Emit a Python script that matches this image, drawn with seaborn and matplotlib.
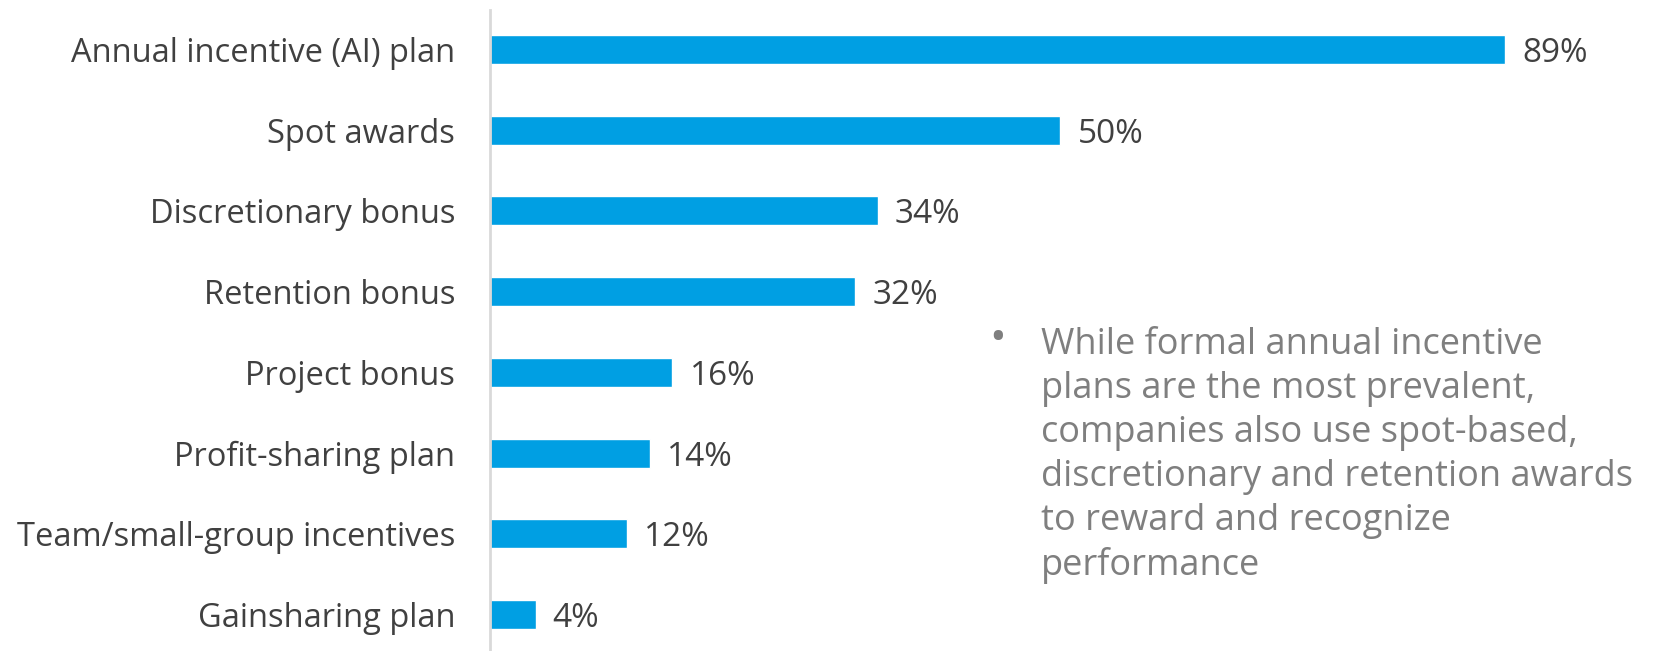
import matplotlib
matplotlib.use("Agg")
import matplotlib.pyplot as plt
import seaborn as sns
import pandas as pd

categories = [
    "Annual incentive (AI) plan",
    "Spot awards",
    "Discretionary bonus",
    "Retention bonus",
    "Project bonus",
    "Profit-sharing plan",
    "Team/small-group incentives",
    "Gainsharing plan",
]
values = [89, 50, 34, 32, 16, 14, 12, 4]
note = ("While formal annual incentive\nplans are the most prevalent,\n"
        "companies also use spot-based,\ndiscretionary and retention awards\n"
        "to reward and recognize\nperformance")

sns.set_theme(style="white")
plt.rcParams["font.family"] = ["Open Sans", "DejaVu Sans"]

df = pd.DataFrame({"category": categories, "value": values})

fig = plt.figure(figsize=(16.63, 6.51), dpi=100)
ax = fig.add_axes([0.2946, 0.0, 0.686, 0.985])

sns.barplot(data=df, x="value", y="category", orient="h", color="#009FE3",
            saturation=1, width=0.36, ax=ax)

ax.set_xlim(0, 100)
ax.set_ylim(7.45, -0.49)
ax.set_xlabel("")
ax.set_ylabel("")
ax.set_xticks([])
for s in ["top", "right", "bottom"]:
    ax.spines[s].set_visible(False)
ax.spines["left"].set_color("#d9d9d9")
ax.spines["left"].set_linewidth(2)
ax.tick_params(axis="y", length=0, pad=25, labelsize=23.5, labelcolor="#404040")

for i, v in enumerate(values):
    ax.text(v + 1.5, i, f"{v}%", va="center_baseline", ha="left", fontsize=24,
            color="#404040")

fig.text(0.6, 0.478, "\u2022", fontsize=32, color="#7f7f7f", va="center", ha="center")
fig.text(0.626, 0.497, note, fontsize=26, color="#7f7f7f", va="top", ha="left",
         linespacing=1.29)

fig.savefig("out.png", dpi=100)
